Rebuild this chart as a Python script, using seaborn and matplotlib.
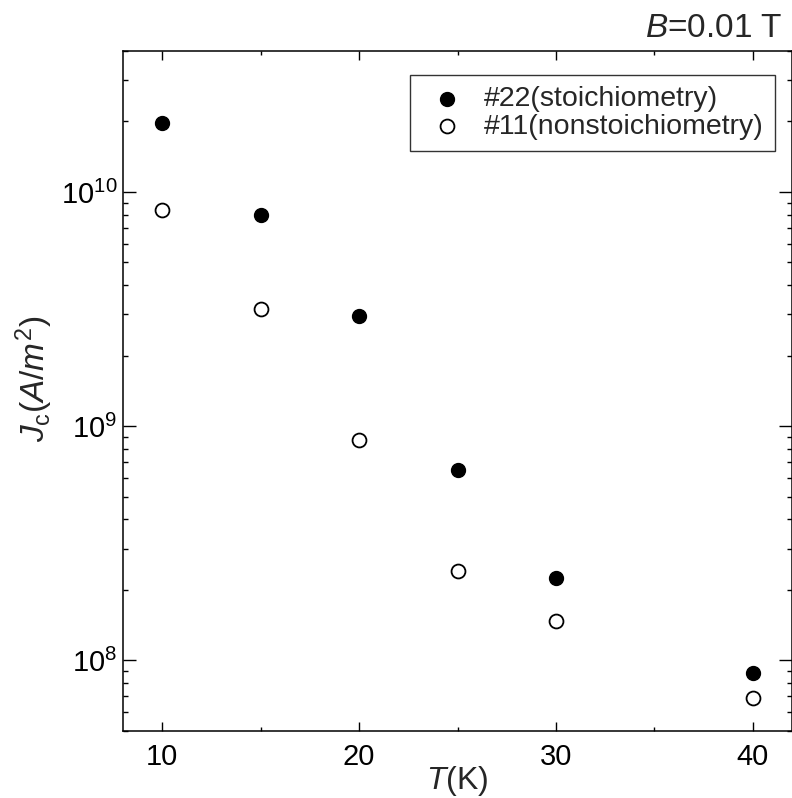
import matplotlib
matplotlib.use("Agg")
import matplotlib.pyplot as plt
import seaborn as sns
import pandas as pd

T = [10, 15, 20, 25, 30, 40]
jc_22 = [1.97e10, 7.95e9, 2.95e9, 6.5e8, 2.24e8, 8.8e7]
jc_11 = [8.4e9, 3.16e9, 8.7e8, 2.4e8, 1.47e8, 6.9e7]
label_22 = "#22(stoichiometry)"
label_11 = "#11(nonstoichiometry)"

sns.set_style("ticks")
plt.rcParams["font.family"] = ["Liberation Sans", "DejaVu Sans"]
plt.rcParams["mathtext.fontset"] = "custom"
plt.rcParams["mathtext.rm"] = "Liberation Sans"
plt.rcParams["mathtext.it"] = "Liberation Sans:italic"
plt.rcParams["mathtext.bf"] = "Liberation Sans:bold"

df22 = pd.DataFrame({"T": T, "Jc": jc_22})
df11 = pd.DataFrame({"T": T, "Jc": jc_11})

fig = plt.figure(figsize=(7.92, 7.98), dpi=100)
ax = fig.add_axes([123/792, 1-730.7/798, 669/792, (730.7-51)/798])

sns.scatterplot(data=df22, x="T", y="Jc", ax=ax, s=100, color="black",
                edgecolor="black", linewidth=1.0, label=label_22, zorder=3)
sns.scatterplot(data=df11, x="T", y="Jc", ax=ax, s=100, facecolor="white",
                edgecolor="black", linewidth=1.3, label=label_11, zorder=3)

ax.set_yscale("log")
ax.set_xlim(8, 42)
ax.set_ylim(5e7, 4e10)
ax.set_xticks([10, 20, 30, 40])
ax.set_xticks([15, 25, 35], minor=True)

for s in ax.spines.values():
    s.set_linewidth(1.1)
    s.set_color("black")

ax.tick_params(axis="both", which="both", direction="in", top=True, right=True,
               colors="black", width=1.0)
ax.tick_params(axis="x", which="major", length=6.5, labelsize=21, pad=9)
ax.tick_params(axis="x", which="minor", length=3)
ax.tick_params(axis="y", which="major", length=9.4, labelsize=21, pad=4)
ax.tick_params(axis="y", which="minor", length=3.6)

ax.set_xlabel(r"$\mathit{T}$(K)", fontsize=23, labelpad=-5)
ax.set_ylabel(r"$\mathit{J}_\mathrm{c}(\mathit{A/m}^2)$", fontsize=24, labelpad=4)
ax.yaxis.label.set_y(0.517)

fig.text(783/792, 1-37.3/798, r"$\mathit{B}$=0.01 T", ha="right", va="baseline", fontsize=24)

leg = ax.legend(loc="upper right", bbox_to_anchor=(0.9746, 0.9647), borderaxespad=0,
                fontsize=20.5, frameon=True, fancybox=False, edgecolor="black",
                handlelength=1.8, handletextpad=0.4, borderpad=0.4, labelspacing=0.05)
leg.get_frame().set_linewidth(1.0)

fig.savefig("out.png", dpi=100)
